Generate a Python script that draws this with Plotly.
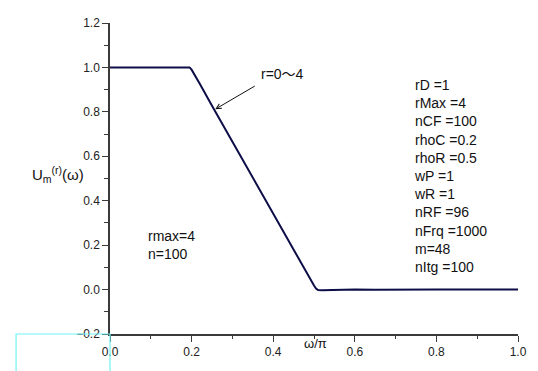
import plotly.graph_objects as go

# Normalised frequency (omega / pi) and the filter response U_m^(r)(omega)
omega = [0.0, 0.05, 0.10, 0.15, 0.18, 0.19, 0.195, 0.20, 0.205, 0.21, 0.22,
         0.25, 0.30, 0.35, 0.40, 0.45, 0.48, 0.49, 0.495, 0.50, 0.505, 0.51,
         0.52, 0.54, 0.56, 0.58, 0.60, 0.65, 0.70, 0.75, 0.80, 0.90, 1.00]
response = [1.0, 1.0, 1.0, 1.0, 1.0, 1.002, 1.0, 0.99, 0.975, 0.958, 0.926,
            0.828, 0.665, 0.503, 0.341, 0.179, 0.082, 0.050, 0.034, 0.018, 0.005, -0.002,
            -0.003, -0.002, -0.001, 0.001, 0.0, -0.001, 0.0, 0.0, 0.0, 0.0, 0.0]

x_ticks = [0.0, 0.2, 0.4, 0.6, 0.8, 1.0]
y_ticks = [-0.2, 0.0, 0.2, 0.4, 0.6, 0.8, 1.0, 1.2]

param_lines = ["rD =1", "rMax =4", "nCF =100", "rhoC =0.2", "rhoR =0.5", "wP =1",
               "wR =1", "nRF =96", "nFrq =1000", "m=48", "nItg =100"]
run_lines = ["rmax=4", "n=100"]

FONT = "Liberation Sans, Arial, Noto Sans CJK JP, sans-serif"
AXIS_COLOR = "#3a3a3a"

fig = go.Figure()
fig.add_trace(go.Scatter(x=omega, y=response, mode="lines",
                         line=dict(color="#0d0d48", width=2), hoverinfo="skip"))

axis_common = dict(showgrid=False, zeroline=False, showline=True, linecolor=AXIS_COLOR,
                   linewidth=1.5, ticks="outside", ticklen=6, tickwidth=1.2,
                   tickcolor=AXIS_COLOR, tickformat=".1f", mirror=False,
                   tickfont=dict(family=FONT, size=12, color="#222"))

fig.update_xaxes(range=[0, 1], tickvals=x_ticks,
                 minor=dict(ticks="outside", dtick=0.1, ticklen=3, tickwidth=1.2,
                            tickcolor=AXIS_COLOR, tick0=0),
                 **axis_common)
fig.update_yaxes(range=[-0.2, 1.2], tickvals=y_ticks,
                 minor=dict(ticks="outside", dtick=0.1, ticklen=4, tickwidth=1.2,
                            tickcolor=AXIS_COLOR, tick0=0),
                 **axis_common)

annotations = [
    # parameter listing on the right
    dict(text="<br>".join(param_lines), x=0.739, y=1.2 - (75 - 22.7) / 311 * 1.4,
         xref="x", yref="y", xanchor="left", yanchor="top", align="left",
         showarrow=False, font=dict(family=FONT, size=14, color="#111")),
    # run summary
    dict(text="<br>".join(run_lines), x=0.089, y=1.2 - (226 - 22.7) / 311 * 1.4,
         xref="x", yref="y", xanchor="left", yanchor="top", align="left",
         showarrow=False, font=dict(family=FONT, size=14, color="#111")),
    # curve label and pointer
    dict(text="r=0〜4", x=0.364, y=1.2 - (74 - 22.7) / 311 * 1.4, xref="x", yref="y",
         xanchor="left", yanchor="middle", showarrow=False,
         font=dict(family=FONT, size=14, color="#111")),
    dict(text="", x=0.258, y=0.812, xref="x", yref="y", showarrow=True,
         ax=41, ay=-24, axref="pixel", ayref="pixel",
         arrowhead=5, arrowsize=1, arrowwidth=1, arrowcolor="#111"),
    # axis titles
    dict(text="ω/π", x=0.504, y=-0.031, xref="x", yref="paper", xanchor="center",
         yanchor="middle", showarrow=False, font=dict(family=FONT, size=13, color="#111")),
    dict(text="U<sub>m</sub><sup>(r)</sup>(ω)", x=-0.195, y=0.513, xref="paper", yref="paper",
         xanchor="left", yanchor="middle", showarrow=False,
         font=dict(family=FONT, size=15, color="#111")),
]

fig.update_layout(
    width=538, height=371,
    margin=dict(l=110, r=11, t=23, b=37),
    paper_bgcolor="white", plot_bgcolor="white",
    showlegend=False,
    annotations=annotations,
    shapes=[dict(type="path", xref="paper", yref="paper",
                 path="M -0.2302,-0.3 L -0.2302,0 L 0,0 L 0,-0.3",
                 line=dict(color="#70f4f4", width=1.2))],
)

fig.write_html("out.html")
